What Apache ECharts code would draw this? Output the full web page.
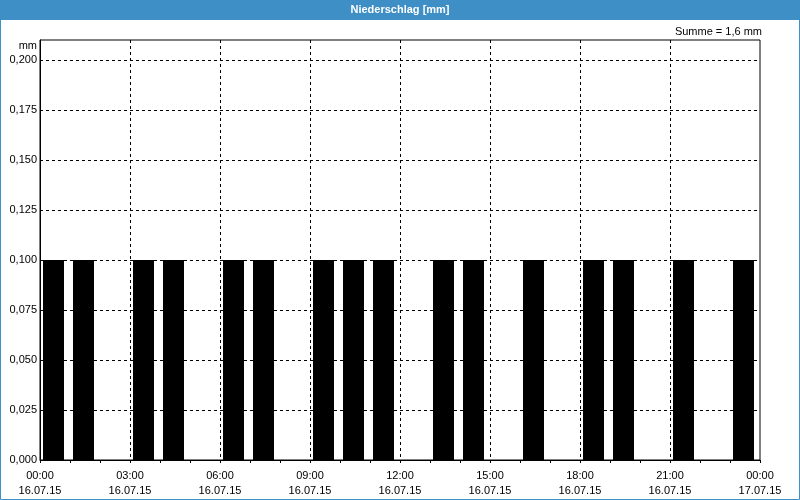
<!DOCTYPE html>
<html>
<head>
<meta charset="utf-8">
<script src="https://cdn.jsdelivr.net/npm/echarts@6/dist/echarts.min.js"></script>
<style>html,body{margin:0;padding:0;background:#fff;}#c{width:800px;height:500px;}</style>
</head>
<body>
<div id="c"></div>
<script>
// Hourly precipitation, 16.07.15 (hour start, mm)
const hours  = [0,1,2,3,4,5,6,7,8,9,10,11,12,13,14,15,16,17,18,19,20,21,22,23];
const values = [0.1,0.1,0,0.1,0.1,0,0.1,0.1,0,0.1,0.1,0.1,0,0.1,0.1,0,0.1,0,0.1,0.1,0,0.1,0,0.1];
const dayLabels = ['16.07.15', '17.07.15'];
const titleText = 'Niederschlag [mm]';
const unitText = 'mm';

const total = values.reduce((a, b) => a + b, 0);
const sumText = 'Summe = ' + total.toFixed(1).replace('.', ',') + ' mm';

const FONT = '"Liberation Sans", Arial, sans-serif';
const BLUE = '#3d8fc6';

const chart = echarts.init(document.getElementById('c'), null, {renderer: 'canvas'});
chart.setOption({
  animation: false,
  backgroundColor: '#ffffff',
  title: [
    {text: titleText, left: 'center', top: 4, padding: 0,
     textStyle: {color: '#fff', fontFamily: FONT, fontSize: 11, fontWeight: 'bold', lineHeight: 12}},
    {text: sumText, right: 38, top: 26, padding: 0,
     textStyle: {color: '#000', fontFamily: FONT, fontSize: 11, fontWeight: 'normal', lineHeight: 12}}
  ],
  graphic: [
    {type: 'rect', z: -10, shape: {x: 0, y: 0, width: 800, height: 20}, style: {fill: BLUE}},
    {type: 'rect', z: -10, shape: {x: 0.5, y: 0.5, width: 799, height: 499}, style: {fill: null, stroke: BLUE, lineWidth: 1}},
    {type: 'text', x: 37, y: 46, style: {text: unitText, align: 'right', verticalAlign: 'middle', fill: '#000', font: '11px ' + FONT}}
  ],
  grid: {left: 40, right: 40, top: 40, bottom: 40, show: true, borderColor: '#000', borderWidth: 1, backgroundColor: '#fff'},
  xAxis: {
    type: 'value', min: 0, max: 24, interval: 3,
    axisLine: {show: true, lineStyle: {color: '#000', width: 1}},
    axisTick: {show: true, length: 3, lineStyle: {color: '#000'}},
    minorTick: {show: true, splitNumber: 3, length: 3, lineStyle: {color: '#000'}},
    splitLine: {show: true, showMinLine: false, showMaxLine: false, lineStyle: {color: '#000', type: [3, 3], width: 1}},
    axisLabel: {
      margin: 8, color: '#000', fontFamily: FONT, fontSize: 11, lineHeight: 15,
      showMinLabel: true, showMaxLabel: true,
      formatter: function (v) {
        const h = Math.round(v) % 24;
        const d = v >= 24 ? dayLabels[1] : dayLabels[0];
        return (h < 10 ? '0' : '') + h + ':00\n' + d;
      }
    }
  },
  yAxis: {
    type: 'value', min: 0, max: 0.21, interval: 0.025,
    axisLine: {show: true, lineStyle: {color: '#000', width: 1}},
    axisTick: {show: false},
    splitLine: {show: true, showMinLine: false, showMaxLine: false, lineStyle: {color: '#000', type: [3, 3], width: 1}},
    axisLabel: {
      margin: 3, color: '#000', fontFamily: FONT, fontSize: 11, showMaxLabel: false,
      formatter: function (v) {
        if (Math.abs(Math.round(v * 1000) % 25) !== 0) return '';
        return v.toFixed(3).replace('.', ',');
      }
    }
  },
  series: [{
    type: 'custom',
    data: hours.map((h, i) => [h, values[i]]),
    renderItem: function (params, api) {
      const h = api.value(0), v = api.value(1);
      if (!v) return null;
      const p0 = api.coord([h + 0.1, v]);
      const p1 = api.coord([h + 0.8, 0]);
      return {type: 'rect', shape: {x: p0[0], y: p0[1], width: p1[0] - p0[0], height: p1[1] - p0[1]}, style: {fill: '#000'}};
    }
  }]
});
</script>
</body>
</html>
